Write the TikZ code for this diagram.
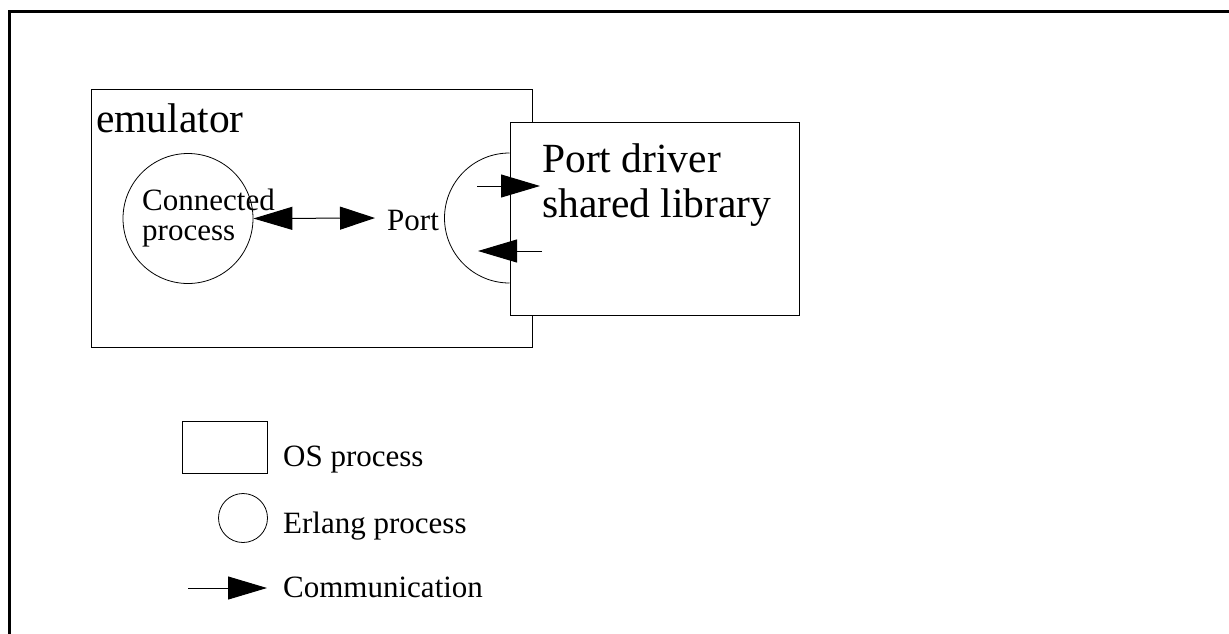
\documentclass[tikz,border=0pt]{standalone}
\usepackage{fontspec}
\setmainfont{Liberation Serif}
\usetikzlibrary{arrows.meta}
\begin{document}
\begin{tikzpicture}[x=1pt,y=-1pt,
  thin line/.style={line width=1pt},
  box/.style={draw,thin line,rectangle,inner sep=0pt},
  proc/.style={draw,line width=0.8pt,circle,inner sep=0pt},
  comm/.style={thin line,-{Triangle[length=39pt,width=23pt]}},
  dcomm/.style={thin line,{Triangle[length=39pt,width=23pt]}-{Triangle[length=35pt,width=23pt]}},
  lbl/.style={inner sep=0pt,anchor=base west},
  big/.style={font=\fontsize{41.5}{45}\selectfont},
  mid/.style={font=\fontsize{31}{31}\selectfont},
  small/.style={font=\fontsize{31}{30}\selectfont}]
\useasboundingbox (0,0) rectangle (1229,633);
% outer frame
\draw[line width=3pt] (9.5,640) -- (9.5,11.5) -- (1240,11.5);
% emulator box
\node[box,minimum width=441pt,minimum height=258pt] (emu) at (311.5,218) {};
\node[lbl,big] (emutxt) at (96,132) {emulator};
% connected process
\node[proc,minimum size=130pt] (cp) at (188,218.5) {};
\node[lbl,small] (cp1) at (142,210) {Connected};
\node[lbl,small] (cp2) at (142,240) {process};
% port
\node[lbl,mid] (port) at (387,230) {Port};
\coordinate (porttip) at (375,218);
\draw[dcomm] (cp.east) -- (porttip);
% port driver box
\node[box,fill=white,minimum width=289pt,minimum height=193pt] (drv) at (654.5,218.5) {};
\node[lbl,big] (drv1) at (542,172) {Port driver};
\node[lbl,big] (drv2) at (542,217) {shared library};
% port half circle
\coordinate (arcTop) at (drv.west |- 0,153);
\draw[line width=0.8pt] (arcTop) arc[start angle=270,end angle=90,radius=65];
% arrows at driver
\coordinate (a1s) at (477,186);
\coordinate (a1e) at (540,186);
\coordinate (a2s) at (542,251);
\coordinate (a2e) at (478,251);
\draw[comm] (a1s) -- (a1e);
\draw[comm] (a2s) -- (a2e);
% legend
\node[box,minimum width=85pt,minimum height=52pt] (lrect) at (224.5,447) {};
\node[lbl,mid] (ltxt1) at (283,466) {OS process};
\node[proc,minimum size=49pt] (lcirc) at (243,518) {};
\node[lbl,mid] (ltxt2) at (283,533) {Erlang process};
\coordinate (lars) at (188,588);
\coordinate (lare) at (267,588);
\draw[comm] (lars) -- (lare);
\node[lbl,mid] (ltxt3) at (283,597) {Communication};
\end{tikzpicture}
\end{document}
